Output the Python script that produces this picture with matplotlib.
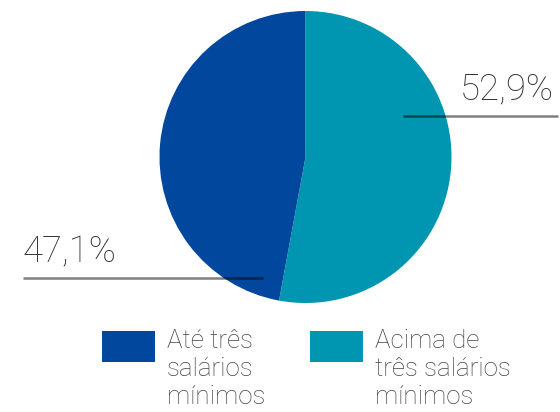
import matplotlib.pyplot as plt
from matplotlib.patches import Rectangle

# data
labels = ["Acima de\ntrês salários\nmínimos", "Até três\nsalários\nmínimos"]
values = [52.9, 47.1]
colors = ["#0096B1", "#00479D"]
pct_text = ["52,9%", "47,1%"]

W, H = 560, 412
fig = plt.figure(figsize=(W / 100, H / 100), dpi=100)
ax = fig.add_axes([0, 0, 1, 1])

# pie in pixel coords (y up)
cx, cy, r = 305.5, H - 157, 146
ax.pie(values, colors=colors, startangle=90, counterclock=False,
       center=(cx, cy), radius=r, wedgeprops=dict(linewidth=0))

ax.set_xlim(0, W)
ax.set_ylim(0, H)
ax.set_aspect("equal")
ax.axis("off")

font = dict(family="Roboto", fontweight="light")

# percentage labels with leader lines
ax.plot([403, 558], [H - 116, H - 116], color="black", alpha=0.5, lw=1.8, solid_capstyle="butt")
ax.text(460, H - 99, pct_text[0], fontsize=36.5 * 0.72, color="#333333", va="baseline", ha="left", **font)
ax.plot([23, 263], [H - 278, H - 278], color="black", alpha=0.5, lw=1.8, solid_capstyle="butt")
ax.text(23, H - 262, pct_text[1], fontsize=36.5 * 0.72, color="#333333", va="baseline", ha="left", **font)

# legend
leg = [(102, 167, 1), (310, 375, 0)]
for bx, tx, i in leg:
    ax.add_patch(Rectangle((bx, H - 362), 53, 31, color=colors[i], lw=0))
    ax.text(tx, H - 329, labels[i], fontsize=26 * 0.72, color="#444444",
            va="top", ha="left", linespacing=1.2, **font)

fig.savefig("out.png", dpi=100)
